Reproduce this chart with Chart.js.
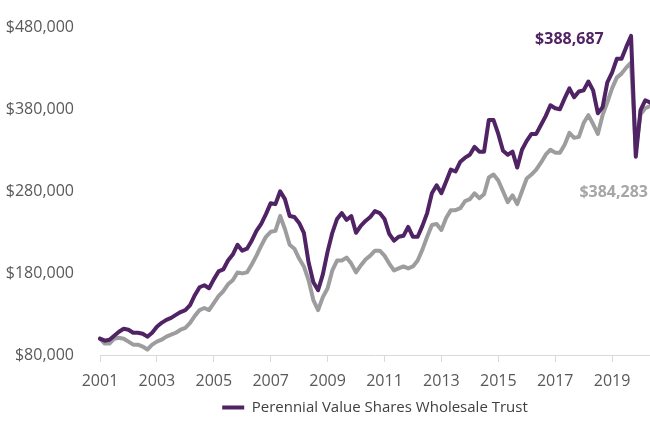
<!DOCTYPE html>
<html>
<head>
<meta charset="utf-8">
<title>Growth of $100,000</title>
<script src="https://cdn.jsdelivr.net/npm/chart.js@4.4.1/dist/chart.umd.min.js"></script>
<style>
  html, body { margin: 0; padding: 0; background: #fff; }
  #wrap { width: 650px; height: 425px; }
</style>
</head>
<body>
<div id="wrap"><canvas id="growthChart" width="650" height="425"></canvas></div>
<script>
// --- data (bimonthly readings, growth of $100,000) ---
const startYear = 2001;
const yearTicks = ['2001', '2003', '2005', '2007', '2009', '2011', '2013', '2015', '2017', '2019'];
const monthNames = ['Jan', 'Mar', 'May', 'Jul', 'Sep', 'Nov'];

const trustValues = [
  100000, 97500, 98700, 103600, 108400, 112000, 110900, 107200, 107200, 106000, 102400, 107200,
  114400, 119300, 122900, 125300, 129000, 132500, 134900, 141000, 153100, 162800, 165200, 161600,
  172400, 182100, 184500, 195400, 202700, 214700, 207500, 209900, 219600, 231700, 240100, 252100,
  265500, 264300, 280000, 270400, 249800, 248600, 241300, 229300, 192900, 168900, 159100, 178500,
  206300, 229300, 246200, 253400, 245000, 249800, 229300, 237700, 243800, 248600, 255800, 253400,
  246200, 228100, 219600, 224400, 225600, 236500, 224400, 224400, 237700, 253400, 277600, 287300,
  277600, 292000, 306600, 304200, 316200, 321100, 324700, 334300, 328400, 328400, 367000, 367000,
  350100, 329600, 324700, 328400, 309000, 330800, 341600, 350100, 350100, 361000, 371900, 385100,
  381500, 380300, 393500, 405700, 394800, 402000, 403300, 414100, 403300, 375400, 382700, 413000,
  425000, 441900, 441900, 456400, 469800, 322300, 379100, 391200, 388687
];

const indexValues = [
  100000, 93900, 93900, 99900, 101100, 99900, 96300, 92600, 92600, 90300, 86700, 92600,
  96300, 98700, 102400, 104800, 107200, 110900, 113200, 119300, 127800, 134900, 137400, 134900,
  143500, 151900, 157900, 166400, 171300, 180900, 179700, 180900, 190600, 201400, 213500, 224400,
  230500, 231700, 249800, 234000, 214700, 209900, 197800, 188200, 171300, 147100, 134900, 150700,
  161600, 183300, 195400, 195400, 199000, 191700, 180900, 189400, 196600, 201400, 207500, 207500,
  201400, 191700, 183300, 185800, 188200, 185800, 188200, 195400, 208700, 224400, 238900, 240100,
  232800, 247400, 257000, 257000, 259400, 267900, 270400, 277600, 271600, 276400, 296900, 300500,
  293200, 280000, 266700, 275100, 264300, 280000, 295700, 300500, 306600, 315000, 324700, 330800,
  327200, 327200, 336800, 351300, 345300, 346500, 363400, 373000, 362200, 350100, 373000, 388800,
  405700, 418900, 423800, 431100, 437100, 330800, 374200, 381500, 384283
];

const categories = trustValues.map((_, i) =>
  monthNames[i % 6] + ' ' + (startYear + Math.floor(i / 6)));

const PURPLE = '#502364';
const GREY = '#9d9d9f';
const AXIS_TEXT = '#595959';
const FONT = '"Open Sans", "Noto Sans", sans-serif';

function money(v) {
  return '$' + Math.round(v).toLocaleString('en-US');
}

// value labels next to the end of each line
const endLabels = {
  id: 'endLabels',
  afterDatasetsDraw(chart) {
    const { ctx, chartArea, scales } = chart;
    ctx.save();
    ctx.font = 'bold 16px ' + FONT;
    ctx.textBaseline = 'middle';

    ctx.fillStyle = PURPLE;
    ctx.textAlign = 'center';
    ctx.fillText(money(trustValues[trustValues.length - 1]),
      scales.x.getPixelForValue(99), scales.y.getPixelForValue(465000));

    ctx.fillStyle = '#a6a6a6';
    ctx.textAlign = 'right';
    ctx.fillText(money(indexValues[indexValues.length - 1]),
      chartArea.right - 2, scales.y.getPixelForValue(278000));
    ctx.restore();
  }
};

// centre the legend under the plot area rather than the whole canvas
const legendUnderPlot = {
  id: 'legendUnderPlot',
  afterLayout(chart) {
    if (!chart.legend) return;
    chart.legend.left = chart.chartArea.left;
    chart.legend.right = chart.chartArea.right;
  }
};

document.addEventListener('DOMContentLoaded', function() {
  const ctx = document.getElementById('growthChart');

  new Chart(ctx, {
    type: 'line',
    data: {
      labels: categories,
      datasets: [
        {
          label: 'Perennial Value Shares Wholesale Trust',
          data: trustValues,
          borderColor: PURPLE,
          backgroundColor: PURPLE,
          borderWidth: 4,
          pointRadius: 0,
          tension: 0,
          borderJoinStyle: 'round',
          borderCapStyle: 'round'
        },
        {
          label: 'Index',
          data: indexValues,
          borderColor: GREY,
          backgroundColor: GREY,
          borderWidth: 4,
          pointRadius: 0,
          tension: 0,
          borderJoinStyle: 'round',
          borderCapStyle: 'round'
        }
      ]
    },
    options: {
      responsive: false,
      devicePixelRatio: 1,
      animation: false,
      layout: { padding: { top: 24, left: 0, right: 0, bottom: 0 } },
      plugins: {
        tooltip: { enabled: false },
        legend: {
          position: 'bottom',
          labels: {
            filter: item => item.datasetIndex === 0,
            usePointStyle: true,
            pointStyle: 'line',
            pointStyleWidth: 22,
            padding: 5,
            color: '#404040',
            font: { family: FONT, size: 15 }
          }
        }
      },
      scales: {
        x: {
          type: 'category',
          grid: {
            drawOnChartArea: false,
            drawTicks: true,
            tickLength: 7,
            color: c => (c.index % 12 === 0 ? '#d9d9d9' : 'rgba(0,0,0,0)')
          },
          border: { display: true, color: '#d9d9d9', width: 1 },
          ticks: {
            autoSkip: false,
            maxRotation: 0,
            minRotation: 0,
            padding: 10,
            color: AXIS_TEXT,
            font: { family: FONT, size: 16 },
            callback: (val, i) => (i % 12 === 0 ? yearTicks[i / 12] : '')
          },
          afterFit: s => {
            s.height = 40;
            s.paddingLeft = 0;
            s.paddingRight = 0;
          }
        },
        y: {
          min: 80000,
          max: 480000,
          grid: { display: false },
          border: { display: false },
          ticks: {
            stepSize: 100000,
            padding: 18,
            color: AXIS_TEXT,
            font: { family: FONT, size: 16 },
            callback: v => money(v)
          },
          afterFit: s => { s.width = 100; }
        }
      }
    },
    plugins: [endLabels, legendUnderPlot]
  });
});
</script>
</body>
</html>
